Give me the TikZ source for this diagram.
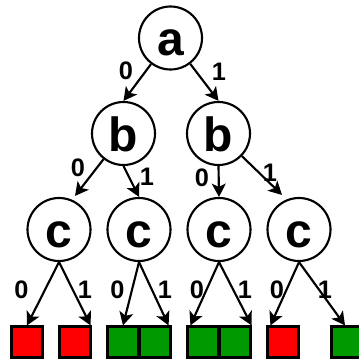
\documentclass[tikz,border=0pt]{standalone}
\usepackage{fontspec}
\setmainfont{Liberation Sans}
\usetikzlibrary{arrows.meta,calc}
\definecolor{leafred}{HTML}{FF0000}
\definecolor{leafgreen}{HTML}{009900}
\begin{document}
\begin{tikzpicture}[x=0.75pt,y=-0.75pt,
  var/.style={circle,draw,line width=1.6pt,minimum size=47.25pt,inner sep=0pt,
    font=\fontsize{36}{36}\selectfont\bfseries,text height=27pt,text depth=0pt},
  lbl/.style={font=\fontsize{19}{20}\selectfont\bfseries,inner sep=0pt},
  leaf/.style={draw,line width=1.6pt,minimum size=23.25pt,inner sep=0pt},
  redleaf/.style={leaf,fill=leafred},
  greenleaf/.style={leaf,fill=leafgreen},
  arc/.style={line width=1.6pt,-{Stealth[length=10pt,width=10.5pt,inset=2.5pt]}}
]
\useasboundingbox (0,0) rectangle (358,359);
% decision nodes
\node[var] (a)  at (170.5,38) {a};
\node[var] (b1) at (123.5,133.5) {b};
\node[var] (b2) at (218.5,133.5) {b};
\node[var] (c1) at (59,229.5) {c};
\node[var] (c2) at (139,229.5) {c};
\node[var] (c3) at (219,229.5) {c};
\node[var] (c4) at (299,229.5) {c};
% leaves
\node[redleaf]   (s1) at (27,342) {};
\node[redleaf]   (s2) at (75,342) {};
\node[greenleaf] (s3) at (123,342) {};
\node[greenleaf] (s4) at (155,342) {};
\node[greenleaf] (s5) at (203,342) {};
\node[greenleaf] (s6) at (235,342) {};
\node[redleaf]   (s7) at (283,342) {};
\node[greenleaf] (s8) at (347,342) {};
% connectors
\draw[arc] (a) -- (b1.north);
\draw[arc] (a) -- (b2.north);
\draw[arc] (b1) -- ($(c1.north)+(16,-1)$);
\draw[arc] (b1.south) -- (c2.north);
\draw[arc] (b2.south) -- (c3.north);
\draw[arc] (b2) -- ($(c4.north)+(-17,-2)$);
\draw[arc] (c1.south) -- (s1.north);
\draw[arc] (c1.south) -- ($(s2.north east)+(-1,0)$);
\draw[arc] (c2.south) -- (s3.north);
\draw[arc] (c2.south) -- ($(s4.north east)+(-3,0)$);
\draw[arc] (c3.south) -- ($(s5.north west)+(4,0)$);
\draw[arc] (c3.south) -- (s6.north east);
\draw[arc] (c4.south) -- ($(s7.north west)+(4,0)$);
\draw[arc] (c4.south) -- ($(s8.north)+(-2,0)$);
% labels
\node[lbl] (la0) at (126,71) {0};
\node[lbl] (la1) at (219,72) {1};
\node[lbl] (lb10) at (78,168) {0};
\node[lbl] (lb11) at (147,177) {1};
\node[lbl] (lb20) at (202,178) {0};
\node[lbl] (lb21) at (270,173) {1};
\node[lbl] (lc10) at (21.5,290) {0};
\node[lbl] (lc11) at (85,290) {1};
\node[lbl] (lc20) at (117.5,290) {0};
\node[lbl] (lc21) at (165,290) {1};
\node[lbl] (lc30) at (197,290) {0};
\node[lbl] (lc31) at (245,290) {1};
\node[lbl] (lc40) at (277,290) {0};
\node[lbl] (lc41) at (325,290) {1};
\end{tikzpicture}
\end{document}
